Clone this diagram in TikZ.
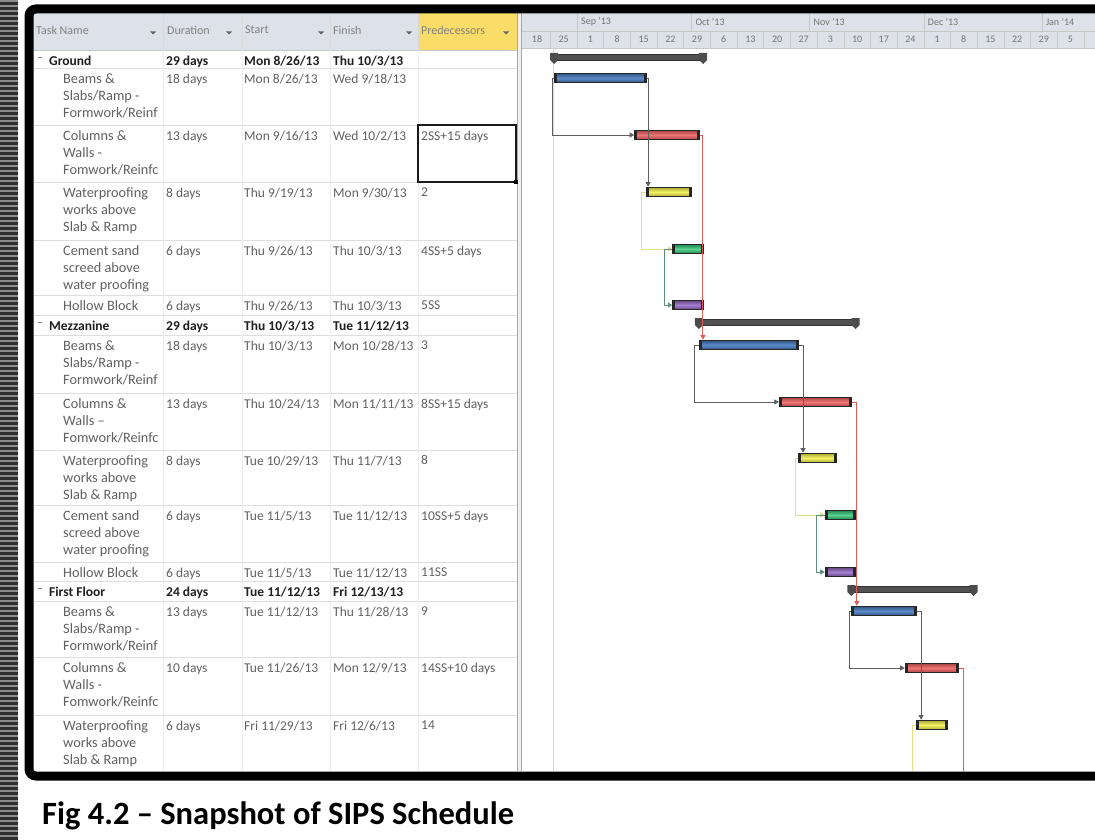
\documentclass[tikz,border=0pt]{standalone}
\usepackage{fontspec}
\setmainfont{Carlito}
\usetikzlibrary{arrows.meta}
\definecolor{hdrgray}{HTML}{DDE2E9}
\definecolor{hdryel}{HTML}{FADC68}
\definecolor{barblue}{HTML}{4A7EC4}
\definecolor{barred}{HTML}{EE5E5E}
\definecolor{baryel}{HTML}{F3EF48}
\definecolor{bargrn}{HTML}{30C873}
\definecolor{barpur}{HTML}{9668C8}
\definecolor{lnkgray}{HTML}{5E5E5E}
\definecolor{lnkred}{HTML}{E35C5C}
\definecolor{lnkyel}{HTML}{E4DE86}
\definecolor{lnkgrn}{HTML}{5C8E80}
\definecolor{stripe}{HTML}{2E2E2E}

\begin{document}
\begin{tikzpicture}[x=1pt, y=-1pt,
  cell/.style={anchor=north west, inner sep=0pt, align=left, text=black!62,
               font=\fontsize{13.5}{17}\selectfont},
  task/.style={cell, font=\fontsize{14.3}{17}\selectfont},
  sumcell/.style={cell, text=black!88, font=\fontsize{13.5}{17}\selectfont\bfseries},
  hdr/.style={anchor=west, inner sep=0pt, text=black!50, font=\fontsize{12}{14}\selectfont},
  tick/.style={inner sep=0pt, text=black!55, font=\fontsize{10}{12}\selectfont},
  bar/.style={anchor=west, inner sep=0pt, minimum height=9.5pt, draw=black!85, line width=1.1pt,
              path picture={\fill[black!85] (path picture bounding box.south west)
                              rectangle ([xshift=2.5pt]path picture bounding box.north west);
                            \fill[black!85] (path picture bounding box.south east)
                              rectangle ([xshift=-2.5pt]path picture bounding box.north east);}},
  bblue/.style={bar, top color=barblue!65!black, bottom color=barblue!65!black, middle color=barblue!90!white},
  bred/.style={bar, top color=barred!70!black, bottom color=barred!70!black, middle color=barred!85!white},
  byel/.style={bar, top color=baryel!70!black, bottom color=baryel!70!black, middle color=baryel!85!white},
  bgrn/.style={bar, top color=bargrn!65!black, bottom color=bargrn!65!black, middle color=bargrn!80!white},
  bpur/.style={bar, top color=barpur!65!black, bottom color=barpur!65!black, middle color=barpur!85!white},
  sumbar/.style={anchor=west, inner sep=0pt, minimum height=6pt, fill=black!68, draw=black!80},
  lnk/.style={line width=0.9pt, -{Triangle[length=4.5pt,width=5pt]}},
]
  \useasboundingbox (0,0) rectangle (1095,840);
  \fill[white] (0,0) rectangle (1095,840);

  % striped strip on the left
  \fill[stripe] (0,0) rectangle (18,840);
  \foreach \yy in {1,6,...,840}
    \draw[black!45, line width=1.4pt] (0,\yy) -- (18,\yy);

  % table header
  \fill[hdrgray] (33,13) rectangle (517,50);
  \fill[hdryel] (418,13) rectangle (517,50);
  \foreach \xx in {163,242,330,418}
    \draw[black!15] (\xx,13) -- (\xx,50);
  \draw[black!22] (33,50) -- (517,50);
  \node[hdr] (hTask)  at (36,30)  {Task Name};
  \node[hdr] (hDur)   at (167,30) {Duration};
  \node[hdr] (hStart) at (245,30) {Start};
  \node[hdr] (hFin)   at (333,30) {Finish};
  \node[hdr] (hPred)  at (421,30) {Predecessors};
  \foreach \xx in {150,226,318,406,503}
    \fill[black!60] (\xx,31.5) -- ++(6,0) -- ++(-3,3) -- cycle;

  % table grid
  \foreach \yy in {68,125,182,240,295,315,335,393,450,505,562,581,601,657,715}
    \draw[black!13] (33,\yy) -- (517,\yy);
  \foreach \xx in {163,242,330,418}
    \draw[black!7] (\xx,50) -- (\xx,771);

  % splitter
  \fill[black!6] (517,13) rectangle (522,771);
  \draw[black!35] (517.5,13) -- (517.5,771);
  \draw[black!35] (521.5,13) -- (521.5,771);

  % timescale
  \fill[hdrgray] (522,13) rectangle (1095,48);
  \draw[black!22] (522,31) -- (1095,31);
  \draw[black!22] (522,48) -- (1095,48);
  \foreach \xx in {577,691.3,809.4,923.7,1041.8}
    \draw[black!22] (\xx,13) -- (\xx,31);
  \foreach \k in {-1,...,20}
    \draw[black!22] ({577+26.67*\k},31) -- ++(0,17);
  \node[tick, anchor=west] (mSep) at (581,22)    {Sep '13};
  \node[tick, anchor=west] (mOct) at (695.3,22)  {Oct '13};
  \node[tick, anchor=west] (mNov) at (813.4,22)  {Nov '13};
  \node[tick, anchor=west] (mDec) at (927.7,22)  {Dec '13};
  \node[tick, anchor=west] (mJan) at (1045.8,22) {Jan '14};
  \foreach \lbl [count=\k from 0] in {18,25,1,8,15,22,29,6,13,20,27,3,10,17,24,1,8,15,22,29,5}
    \node[tick] (day\k) at ({523.7+26.67*(\k+0.5)},39.5) {\lbl};

  % project start line
  \draw[black!14] (553,48) -- (553,771);

  % rows: Ground
  \draw[black!50, line width=0.8pt] (38,57) -- (42,57);
  \node[sumcell] (t1) at (49,55.5)  {Ground};
  \node[sumcell] (d1) at (166,55.5) {29 days};
  \node[sumcell] (s1) at (244,55.5) {Mon 8/26/13};
  \node[sumcell] (f1) at (333,55.5) {Thu 10/3/13};

  \node[task] (t2) at (63,73.5)  {Beams \&\\Slabs/Ramp -\\Formwork/Reinf};
  \node[cell] (d2) at (166,73.5) {18 days};
  \node[cell] (s2) at (244,73.5) {Mon 8/26/13};
  \node[cell] (f2) at (333,73.5) {Wed 9/18/13};

  \node[task] (t3) at (63,130.5)  {Columns \&\\Walls -\\Fomwork/Reinfc};
  \node[cell] (d3) at (166,130.5) {13 days};
  \node[cell] (s3) at (244,130.5) {Mon 9/16/13};
  \node[cell] (f3) at (333,130.5) {Wed 10/2/13};
  \node[cell] (p3) at (421,130.5) {2SS+15 days};

  \node[task] (t4) at (63,187.5)  {Waterproofing\\works above\\Slab \& Ramp};
  \node[cell] (d4) at (166,187.5) {8 days};
  \node[cell] (s4) at (244,187.5) {Thu 9/19/13};
  \node[cell] (f4) at (333,187.5) {Mon 9/30/13};
  \node[cell] (p4) at (421,187.5) {2};

  \node[task] (t5) at (63,245.5)  {Cement sand\\screed above\\water proofing};
  \node[cell] (d5) at (166,245.5) {6 days};
  \node[cell] (s5) at (244,245.5) {Thu 9/26/13};
  \node[cell] (f5) at (333,245.5) {Thu 10/3/13};
  \node[cell] (p5) at (421,245.5) {4SS+5 days};

  \node[task] (t6) at (63,300.5)  {Hollow Block};
  \node[cell] (d6) at (166,300.5) {6 days};
  \node[cell] (s6) at (244,300.5) {Thu 9/26/13};
  \node[cell] (f6) at (333,300.5) {Thu 10/3/13};
  \node[cell] (p6) at (421,300.5) {5SS};

  % rows: Mezzanine
  \draw[black!50, line width=0.8pt] (38,322) -- (42,322);
  \node[sumcell] (t7) at (49,320.5)  {Mezzanine};
  \node[sumcell] (d7) at (166,320.5) {29 days};
  \node[sumcell] (s7) at (244,320.5) {Thu 10/3/13};
  \node[sumcell] (f7) at (333,320.5) {Tue 11/12/13};

  \node[task] (t8) at (63,340.5)  {Beams \&\\Slabs/Ramp -\\Formwork/Reinf};
  \node[cell] (d8) at (166,340.5) {18 days};
  \node[cell] (s8) at (244,340.5) {Thu 10/3/13};
  \node[cell] (f8) at (333,340.5) {Mon 10/28/13};
  \node[cell] (p8) at (421,340.5) {3};

  \node[task] (t9) at (63,398.5)  {Columns \&\\Walls --\\Fomwork/Reinfc};
  \node[cell] (d9) at (166,398.5) {13 days};
  \node[cell] (s9) at (244,398.5) {Thu 10/24/13};
  \node[cell] (f9) at (333,398.5) {Mon 11/11/13};
  \node[cell] (p9) at (421,398.5) {8SS+15 days};

  \node[task] (t10) at (63,455.5)  {Waterproofing\\works above\\Slab \& Ramp};
  \node[cell] (d10) at (166,455.5) {8 days};
  \node[cell] (s10) at (244,455.5) {Tue 10/29/13};
  \node[cell] (f10) at (333,455.5) {Thu 11/7/13};
  \node[cell] (p10) at (421,455.5) {8};

  \node[task] (t11) at (63,510.5)  {Cement sand\\screed above\\water proofing};
  \node[cell] (d11) at (166,510.5) {6 days};
  \node[cell] (s11) at (244,510.5) {Tue 11/5/13};
  \node[cell] (f11) at (333,510.5) {Tue 11/12/13};
  \node[cell] (p11) at (421,510.5) {10SS+5 days};

  \node[task] (t12) at (63,567.5)  {Hollow Block};
  \node[cell] (d12) at (166,567.5) {6 days};
  \node[cell] (s12) at (244,567.5) {Tue 11/5/13};
  \node[cell] (f12) at (333,567.5) {Tue 11/12/13};
  \node[cell] (p12) at (421,567.5) {11SS};

  % rows: First Floor
  \draw[black!50, line width=0.8pt] (38,588) -- (42,588);
  \node[sumcell] (t13) at (49,586.5)  {First Floor};
  \node[sumcell] (d13) at (166,586.5) {24 days};
  \node[sumcell] (s13) at (244,586.5) {Tue 11/12/13};
  \node[sumcell] (f13) at (333,586.5) {Fri 12/13/13};

  \node[task] (t14) at (63,606.5)  {Beams \&\\Slabs/Ramp -\\Formwork/Reinf};
  \node[cell] (d14) at (166,606.5) {13 days};
  \node[cell] (s14) at (244,606.5) {Tue 11/12/13};
  \node[cell] (f14) at (333,606.5) {Thu 11/28/13};
  \node[cell] (p14) at (421,606.5) {9};

  \node[task] (t15) at (63,662.5)  {Columns \&\\Walls -\\Fomwork/Reinfc};
  \node[cell] (d15) at (166,662.5) {10 days};
  \node[cell] (s15) at (244,662.5) {Tue 11/26/13};
  \node[cell] (f15) at (333,662.5) {Mon 12/9/13};
  \node[cell] (p15) at (421,662.5) {14SS+10 days};

  \node[task] (t16) at (63,720.5)  {Waterproofing\\works above\\Slab \& Ramp};
  \node[cell] (d16) at (166,720.5) {6 days};
  \node[cell] (s16) at (244,720.5) {Fri 11/29/13};
  \node[cell] (f16) at (333,720.5) {Fri 12/6/13};
  \node[cell] (p16) at (421,720.5) {14};

  % selected cell
  \draw[black!90, line width=2pt] (418,125.5) rectangle (516,182);
  \fill[black] (514,180) rectangle (518,184);

  % bars
  \node[sumbar, minimum width=148.6pt] (sumG) at (554.1,57) {};
  \node[bblue, minimum width=91.5pt] (gBeams)  at (554.1,78) {};
  \node[bred,  minimum width=64.7pt] (gCols)   at (634.2,135) {};
  \node[byel,  minimum width=45.7pt] (gWater)  at (645.6,192) {};
  \node[bgrn,  minimum width=30.5pt] (gCement) at (672.3,249) {};
  \node[bpur,  minimum width=30.5pt] (gHollow) at (672.3,305) {};

  \node[sumbar, minimum width=156.2pt] (sumM) at (698.9,322) {};
  \node[bblue, minimum width=99.1pt] (mBeams)  at (698.9,345) {};
  \node[bred,  minimum width=72.4pt] (mCols)   at (778.9,402) {};
  \node[byel,  minimum width=38.1pt] (mWater)  at (798,458) {};
  \node[bgrn,  minimum width=30.5pt] (mCement) at (824.7,515) {};
  \node[bpur,  minimum width=30.5pt] (mHollow) at (824.7,572) {};

  \node[sumbar, minimum width=121.9pt] (sumF) at (851.3,589) {};
  \node[bblue, minimum width=64.8pt] (fBeams)  at (851.3,611) {};
  \node[bred,  minimum width=53.3pt] (fCols)   at (904.7,668) {};
  \node[byel,  minimum width=30.5pt] (fWater)  at (916.1,725) {};

  % summary end caps
  \fill[black!70] (sumG.west) ++(-4,-4) -- ++(8,0) -- ++(0,7) -- ++(-4,4) -- ++(-4,-4) -- cycle;
  \fill[black!70] (sumG.east) ++(-4,-4) -- ++(8,0) -- ++(0,7) -- ++(-4,4) -- ++(-4,-4) -- cycle;
  \fill[black!70] (sumM.west) ++(-4,-4) -- ++(8,0) -- ++(0,7) -- ++(-4,4) -- ++(-4,-4) -- cycle;
  \fill[black!70] (sumM.east) ++(-4,-4) -- ++(8,0) -- ++(0,7) -- ++(-4,4) -- ++(-4,-4) -- cycle;
  \fill[black!70] (sumF.west) ++(-4,-4) -- ++(8,0) -- ++(0,7) -- ++(-4,4) -- ++(-4,-4) -- cycle;
  \fill[black!70] (sumF.east) ++(-4,-4) -- ++(8,0) -- ++(0,7) -- ++(-4,4) -- ++(-4,-4) -- cycle;

  % links
  \draw[lnk, lnkgray] (gBeams.west) -- ++(-2,0) |- (gCols.west);
  \draw[lnk, lnkgray] (gBeams.east) -| ([xshift=2.5pt]gWater.north west);
  \draw[lnk, lnkyel]  (gWater.west) -- ++(-4,0) |- (gCement.west);
  \draw[lnk, lnkgrn]  (gCement.west) -- ++(-8,0) |- (gHollow.west);
  \draw[lnk, lnkred]  (gCols.east) -| ([xshift=4pt]mBeams.north west);

  \draw[lnk, lnkgray] (mBeams.west) -- ++(-4,0) |- (mCols.west);
  \draw[lnk, lnkgray] (mBeams.east) -| ([xshift=5pt]mWater.north west);
  \draw[lnk, lnkyel]  (mWater.west) -- ++(-3,0) |- (mCement.west);
  \draw[lnk, lnkgrn]  (mCement.west) -- ++(-8,0) |- (mHollow.west);
  \draw[lnk, lnkred]  (mCols.east) -| ([xshift=5.5pt]fBeams.north west);

  \draw[lnk, lnkgray] (fBeams.west) -- ++(-2,0) |- (fCols.west);
  \draw[lnk, lnkgray] (fBeams.east) -| ([xshift=5pt]fWater.north west);
  \coordinate (fOutY) at (912,771);
  \coordinate (fOutR) at (963,771);
  \draw[lnkyel, line width=0.9pt] (fWater.west) -| (fOutY);
  \draw[lnkred, line width=0.9pt] (fCols.east) -| (fOutR);

  % frame
  \draw[line width=9pt, rounded corners=7pt] (29,9) rectangle (1120,776);

  % caption
  \node[anchor=base west, inner sep=0pt, font=\fontsize{32.5}{38}\selectfont\bfseries] (cap)
    at (42,824) {Fig 4.2 -- Snapshot of SIPS Schedule};
\end{tikzpicture}
\end{document}
